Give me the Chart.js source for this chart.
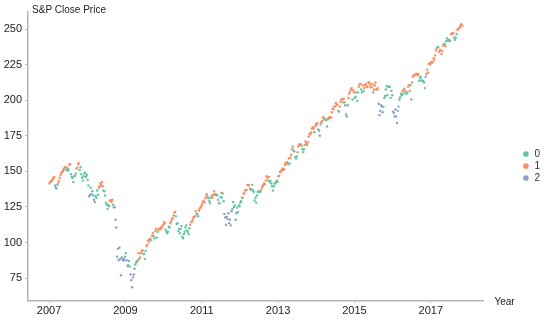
<!DOCTYPE html>
<html>
<head>
<meta charset="utf-8">
<title>S&amp;P Close Price</title>
<script src="https://cdn.jsdelivr.net/npm/chart.js@4.4.1/dist/chart.umd.min.js"></script>
<style>
  body { margin: 0; background: #fff; }
  #wrap { width: 550px; height: 323px; }
</style>
</head>
<body>
<div id="wrap"><canvas id="spChart" width="550" height="323"></canvas></div>
<script>
const years = [2007, 2008, 2009, 2010, 2011, 2012, 2013, 2014, 2015, 2016, 2017];
const clusterNames = ['0', '1', '2'];
const clusterColors = ['#66c2a5', '#fc8d62', '#8da0cb'];
const yearTicks = [2007, 2009, 2011, 2013, 2015, 2017];
const priceTicks = [75, 100, 125, 150, 175, 200, 225, 250];

const close2007 = [141.5,142.5,143.0,143.5, 144.5,145.5,146.0,140.0, 138.5,138.0,140.5,142.0, 143.5,145.5,147.5,149.0,
  149.5,150.5,151.5,152.5, 153.0,151.0,152.5,150.5, 151.5,154.5,155.0,148.0, 146.0,145.5,142.5,146.5,
  147.0,148.5,152.0,152.5, 155.0,155.8,151.0,153.0, 148.0,145.5,143.5,146.5, 149.0,148.5,146.0,147.5];
const cluster2007 = '1111 1112 2001 1111 1111 1000 0110 0000 0011 1100 0000 0000';

const close2008 = [144.0,140.0,132.5,133.5, 138.5,134.0,136.0,133.0, 130.0,128.5,132.5,131.5, 136.5,133.5,138.5,139.5,
  141.5,140.5,142.5,139.5, 136.5,136.0,133.0,128.0, 126.5,123.5,126.5,125.5, 129.5,129.5,128.5,130.0,
  126.5,124.5,125.0,116.0, 110.5,90.0,95.5,87.5, 96.5,88.5,77.0,89.5, 87.5,88.5,87.5,90.0];
const cluster2008 = '0022 0000 2200 0011 1111 0000 0000 1111 0222 2222 2222 2220';

const close2009 = [92.5,87.5,83.5,84.0, 87.0,83.0,77.5,73.5, 68.5,75.5,77.5,81.5, 84.5,86.0,86.5,87.5,
  92.5,88.5,89.5,92.5, 94.0,94.5,92.0,92.0, 88.5,94.0,97.5,98.5, 101.5,100.5,102.5,102.5,
  101.5,104.5,106.5,104.5, 103.0,108.0,109.5,103.5, 107.5,109.5,109.0,109.5, 110.5,110.0,111.5,112.5];
const cluster2009 = '0200 0022 2220 0001 1011 1100 0011 1111 0110 0110 0111 1111';

const close2010 = [114.5,113.5,109.0,107.5, 106.5,107.5,111.0,110.5, 113.5,115.0,116.5,117.0, 119.0,121.0,121.5,118.5,
  113.0,113.5,108.0,109.5, 106.5,109.5,111.5,104.0, 103.0,106.0,107.5,110.5, 112.0,108.5,107.5,106.0,
  110.0,112.5,114.5,114.5, 116.0,117.5,118.0,118.5, 122.0,120.0,120.0,118.5, 122.5,124.0,124.5,125.5];
const cluster2010 = '1100 0000 1111 1110 0000 0000 0000 0000 0111 1111 1100 1111';

const close2011 = [127.0,129.0,128.5,128.5, 131.0,133.0,134.0,132.0, 131.0,129.0,127.5,131.5, 133.0,131.5,133.5,136.0,
  134.0,133.5,133.0,133.5, 130.0,127.5,127.5,132.0, 135.0,131.5,134.5,129.0, 120.0,117.5,112.5,118.0,
  116.5,120.5,113.5,116.0, 112.0,122.0,123.5,128.5, 125.0,126.0,116.0,120.5, 124.5,121.5,126.0,125.5];
const cluster2011 = '1111 1110 0000 1111 1100 0000 1000 2222 2222 2200 0020 0000';

const close2012 = [128.0,129.0,131.5,131.5, 134.5,134.5,136.5,137.0, 137.0,140.5,140.0,140.5, 138.0,137.0,137.5,140.5,
  136.5,135.5,129.5,131.5, 128.0,133.0,135.5,136.0, 135.5,135.5,136.5,138.5, 139.5,140.5,141.5,141.0,
  143.5,146.5,145.5,143.5, 146.0,142.5,143.5,141.5, 139.5,136.5,139.5,141.5, 141.5,142.5,143.5,142.5];
const cluster2012 = '0001 1111 1111 1000 0000 0000 0011 1111 1110 1000 0000 0001';

const close2013 = [146.5,147.0,149.5,150.0, 151.0,152.0,151.0,151.5, 154.5,156.0,155.5,156.5, 155.0,159.0,155.5,159.5,
  161.5,165.5,167.5,164.5, 164.0,160.0,159.0,160.5, 163.5,167.5,168.5,169.0, 169.0,168.0,165.5,163.5,
  165.5,168.5,171.0,169.5, 168.5,170.5,174.5,176.5, 176.0,177.5,180.0,181.0, 180.0,177.5,181.5,183.5];
const cluster2013 = '1111 1111 1111 0101 1110 0000 1111 1000 0111 0111 1111 1011';

const close2014 = [182.5,184.0,179.5,178.5, 175.0,183.0,184.5,185.5, 188.0,187.5,186.5,186.5, 186.0,181.5,186.5,187.5,
  188.0,187.5,188.0,191.5, 194.0,193.5,195.5,195.5, 198.0,196.5,197.0,192.5, 192.0,195.5,199.0,200.5,
  200.5,198.5,201.0,198.5, 196.5,190.0,188.5,196.5, 201.5,204.5,206.0,207.5, 208.5,200.5,207.0,205.5];
const cluster2014 = '1102 2011 1100 0001 1111 1111 1110 0111 1110 0222 1111 1011';

const close2015 = [201.5,202.5,205.5,199.5, 205.5,209.5,211.0,211.5, 207.5,205.5,210.5,206.5, 208.5,210.5,211.5,209.5,
  209.5,212.5,212.5,211.0, 209.0,209.5,211.5,205.5, 207.5,210.5,212.5,207.5, 207.5,208.5,197.5,189.5,
  192.5,196.5,195.5,191.5, 195.5,201.5,203.0,207.5, 210.0,203.5,209.5,209.5, 209.5,201.5,206.5,203.5];
const cluster2015 = '0000 0111 0010 1111 1111 1110 1111 1122 2222 0000 0000 0000';

const close2016 = [192.0,191.0,188.5,193.5, 188.5,184.0,192.5,195.5, 200.5,202.0,204.5,203.5, 206.5,204.5,208.0,206.5,
  205.5,204.5,205.5,209.5, 210.5,206.5,210.5,200.5, 212.5,216.5,217.5,217.5, 218.0,218.5,218.5,217.5,
  218.5,213.5,215.5,216.5, 214.0,213.5,213.5,212.5, 208.5,216.5,218.5,221.5, 219.5,225.5,226.0,225.5];
const cluster2016 = '2222 2220 0000 1011 0001 1102 1111 1111 1000 0000 0011 1111';

const close2017 = [226.5,227.0,226.5,229.5, 228.5,231.5,235.0,236.5, 237.5,237.5,234.0,235.5, 235.0,232.5,234.5,238.5,
  239.5,239.5,238.0,241.5, 243.5,242.0,242.5,241.5, 242.0,246.5,247.0,246.5, 247.5,244.0,242.5,244.0,
  246.5,249.5,250.0,250.5, 251.5,252.5,253.5,252.5];
const cluster2017 = '1111 1111 0011 1111 0010 0000 1111 1000 0111 1111';

const closeByYear = [close2007, close2008, close2009, close2010, close2011, close2012,
  close2013, close2014, close2015, close2016, close2017];
const clusterByYear = [cluster2007, cluster2008, cluster2009, cluster2010, cluster2011, cluster2012,
  cluster2013, cluster2014, cluster2015, cluster2016, cluster2017];

// Split the weekly points into one scatter dataset per cluster
function buildDatasets() {
  const points = clusterNames.map(() => []);
  years.forEach((year, yi) => {
    const labels = clusterByYear[yi].replace(/\s/g, '');
    closeByYear[yi].forEach((price, i) => {
      const t = year + (i + 0.5) / 48;   // 4 points a month
      points[Number(labels[i])].push({ x: t, y: price });
    });
  });
  return clusterNames.map((name, k) => ({
    label: name,
    data: points[k],
    backgroundColor: clusterColors[k],
    borderWidth: 0,
    pointRadius: 1.2,
    pointHoverRadius: 2
  }));
}

// Axis captions that sit outside the usual title spots
const captions = {
  id: 'captions',
  afterDraw(chart) {
    const { ctx, chartArea } = chart;
    ctx.save();
    ctx.fillStyle = '#222';
    ctx.font = '10px "Liberation Sans", Arial, sans-serif';
    ctx.textBaseline = 'alphabetic';
    ctx.fillText('S&P Close Price', chartArea.left + 4, chartArea.top + 1);
    ctx.textBaseline = 'middle';
    ctx.fillText('Year', chartArea.right + 11, chartArea.bottom + 1);
    ctx.restore();
  }
};

const tickFont = { family: '"Liberation Sans", Arial, sans-serif', size: 11 };

new Chart(document.getElementById('spChart'), {
  type: 'scatter',
  data: { datasets: buildDatasets() },
  options: {
    responsive: false,
    animation: false,
    devicePixelRatio: 1,
    layout: { padding: { left: 0.7, right: 0, top: 12, bottom: 3 } },
    plugins: {
      legend: {
        position: 'right',
        labels: {
          usePointStyle: true,
          pointStyle: 'circle',
          boxWidth: 7,
          boxHeight: 4,
          padding: 2,
          color: '#333',
          font: { family: '"Liberation Sans", Arial, sans-serif', size: 10 }
        }
      },
      tooltip: { enabled: false }
    },
    scales: {
      x: {
        type: 'linear',
        min: 2006.45,
        max: 2018.38,
        afterBuildTicks: s => { s.ticks = yearTicks.map(v => ({ value: v })); },
        ticks: { color: '#222', font: tickFont, padding: 2, callback: v => String(v) },
        grid: { display: true, drawOnChartArea: false, tickLength: 2, color: '#bbb' },
        border: { display: true, color: '#b3b3b3', width: 1.5 }
      },
      y: {
        min: 59,
        max: 262,
        afterBuildTicks: s => { s.ticks = priceTicks.map(v => ({ value: v })); },
        ticks: { color: '#222', font: tickFont, padding: 3 },
        grid: { display: true, drawOnChartArea: false, tickLength: 3, color: '#bbb' },
        border: { display: true, color: '#b3b3b3', width: 1.5 }
      },
      gap: {
        position: 'right',
        display: true,
        ticks: { display: false },
        grid: { display: false },
        border: { display: false },
        afterFit: s => { s.width = 37; }
      }
    }
  },
  plugins: [captions]
});
</script>
</body>
</html>
